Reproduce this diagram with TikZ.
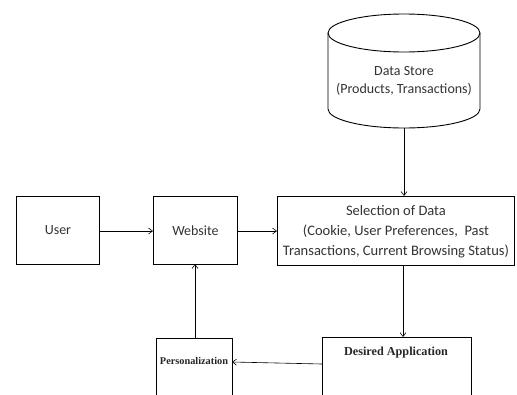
\documentclass[tikz,border=0pt]{standalone}
\usepackage{fontspec}
\setmainfont{Carlito}
\newfontfamily\timesb{Liberation Serif}
\usetikzlibrary{arrows.meta,shapes.geometric}
\begin{document}
\begin{tikzpicture}[x=1pt,y=-1pt,
  box/.style={draw,line width=0.9pt,rectangle,inner sep=0pt,anchor=north west},
  txt/.style={font=\fontsize{14}{18}\selectfont,align=center,text=black!80},
  conn/.style={draw,line width=0.6pt,-{Straight Barb[length=4pt,width=6pt]}},
  plain/.style={draw,line width=0.6pt}]
\useasboundingbox (0,0) rectangle (517,394);
\clip (0,0) rectangle (517,394);
% boxes
\node[box,minimum width=83pt,minimum height=68pt] (user) at (16,196) {};
\node[txt] at (user.center) {User};
\node[box,minimum width=84pt,minimum height=68pt] (web) at (153,196) {};
\node[txt] at (web.center) {Website};
\node[box,minimum width=237pt,minimum height=69pt] (sel) at (277,196) {};
\node[txt,font=\fontsize{14.5}{20}\selectfont] at ([yshift=-1pt]sel.center) {Selection of Data\\(Cookie, User Preferences,\ \ Past\\Transactions, Current Browsing Status)};
% cylinder
\path[draw,line width=0.9pt] (328,33) -- (328,109) arc[start angle=180,end angle=360,x radius=76pt,y radius=19pt] -- (480,33);
\draw[line width=0.9pt] (404,33) ellipse[x radius=76pt,y radius=19pt];
\coordinate (dsb) at (404,128);
\node[txt] (ds) at (404,81) {Data Store\\(Products, Transactions)};
% bottom boxes
\node[box,minimum width=149pt,minimum height=70pt] (app) at (322,337) {};
\node[font=\timesb\bfseries\fontsize{12.2}{14}\selectfont,text=black!85] at (396,353) {Desired Application};
\node[box,minimum width=76pt,minimum height=70pt] (pers) at (156,338) {};
\node[font=\timesb\bfseries\fontsize{10.3}{12}\selectfont,text=black!85] at (194,361) {Personalization};
% connectors
\draw[conn] (user.east |- 0,231) -- (web.west |- 0,231);
\draw[conn] (web.east |- 0,231) -- (sel.west |- 0,231);
\draw[conn] (dsb) -- (404,196);
\draw[conn] (403,265) -- (403,337);
\draw[conn] (322,364) -- (232,362);
\draw[conn] (195,338) -- (195,264);
\end{tikzpicture}
\end{document}
